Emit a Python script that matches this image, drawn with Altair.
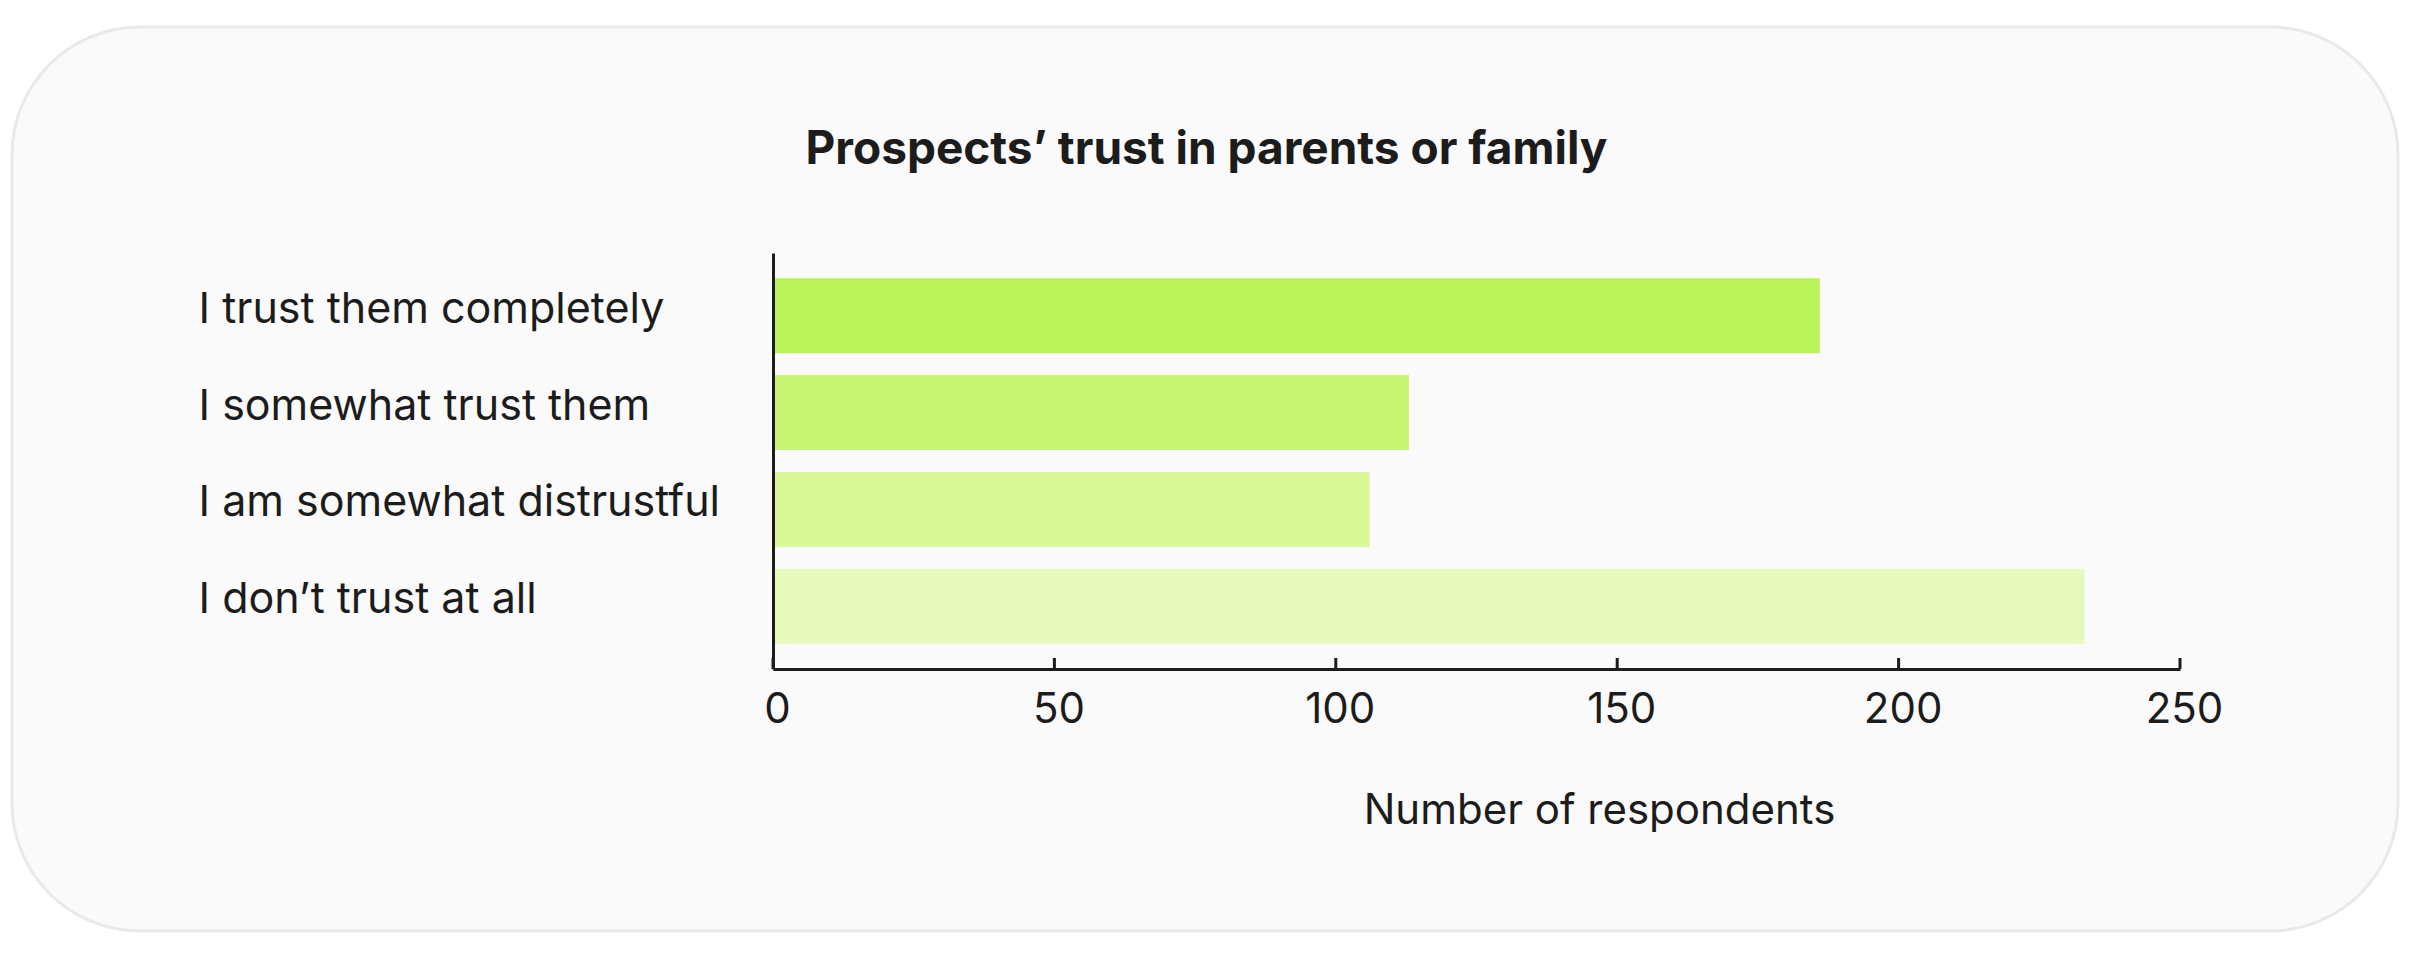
import altair as alt
import pandas as pd

categories = [
    "I trust them completely",
    "I somewhat trust them",
    "I am somewhat distrustful",
    "I don\u2019t trust at all",
]
respondents = [186, 113, 106, 233]
bar_colors = ["#b9f359", "#c7f573", "#d9f898", "#e7f9bc"]
tick_values = [0, 50, 100, 150, 200, 250]

FONT = "Inter"
INK = "#1c1c1c"

W, H = 1407, 416
LEFT, TOP = 773, 253

df = pd.DataFrame({"answer": categories, "count": respondents})
ticks_df = pd.DataFrame({"t": tick_values})

card = alt.Chart(pd.DataFrame({"k": [0]})).mark_rect(
    fill="#fafafa", stroke="#e9e9e9", strokeWidth=3, cornerRadius=128
).encode(
    x=alt.value(12 - LEFT), x2=alt.value(2398 - LEFT),
    y=alt.value(27 - TOP), y2=alt.value(931 - TOP),
)

bars = alt.Chart(df).mark_bar().encode(
    y=alt.Y(
        "answer:N", sort=categories,
        scale=alt.Scale(paddingInner=0.225, paddingOuter=0.26),
        axis=alt.Axis(
            title=None, ticks=False, tickSize=0, domain=True, domainColor=INK,
            domainWidth=3, labelFont=FONT, labelFontSize=43, labelColor=INK,
            labelAlign="left", labelBaseline="alphabetic", labelPadding=575,
            labelOffset=7, labelLimit=900, zindex=1,
        ),
    ),
    x=alt.X(
        "count:Q",
        scale=alt.Scale(domain=[0, 250], nice=False),
        axis=alt.Axis(
            title="Number of respondents", values=tick_values, grid=False,
            ticks=False, tickSize=0, domainColor=INK, domainWidth=3,
            labelFont=FONT, labelFontSize=42, labelColor=INK,
            labelBaseline="alphabetic", labelPadding=53, labelFlush=False,
            labelOverlap=False, labelOffset=4,
            titleFont=FONT, titleFontSize=42, titleFontWeight="normal",
            titleColor=INK, titleX=826, titleY=154, titleAlign="center",
            titleBaseline="alphabetic", zindex=1,
        ),
    ),
    color=alt.Color("answer:N", sort=categories,
                    scale=alt.Scale(domain=categories, range=bar_colors),
                    legend=None),
)

tick_marks = alt.Chart(ticks_df).mark_rule(color=INK, strokeWidth=3).encode(
    x=alt.X("t:Q"),
    y=alt.value(H - 11),
    y2=alt.value(H),
)

chart = alt.layer(card, bars, tick_marks).properties(
    width=W,
    height=H,
    title=alt.TitleParams(
        "Prospects\u2019 trust in parents or family",
        font=FONT, fontSize=46, fontWeight="bold", color=INK,
        anchor="middle", baseline="alphabetic", dx=-270, dy=184, offset=0,
    ),
    padding={"left": LEFT, "top": TOP, "right": 2412 - LEFT - W, "bottom": 960 - TOP - H},
    autosize=alt.AutoSizeParams(type="none"),
    background="#ffffff",
).configure_view(stroke=None)

chart.save("out.html", embed_options={"renderer": "svg", "actions": False})
